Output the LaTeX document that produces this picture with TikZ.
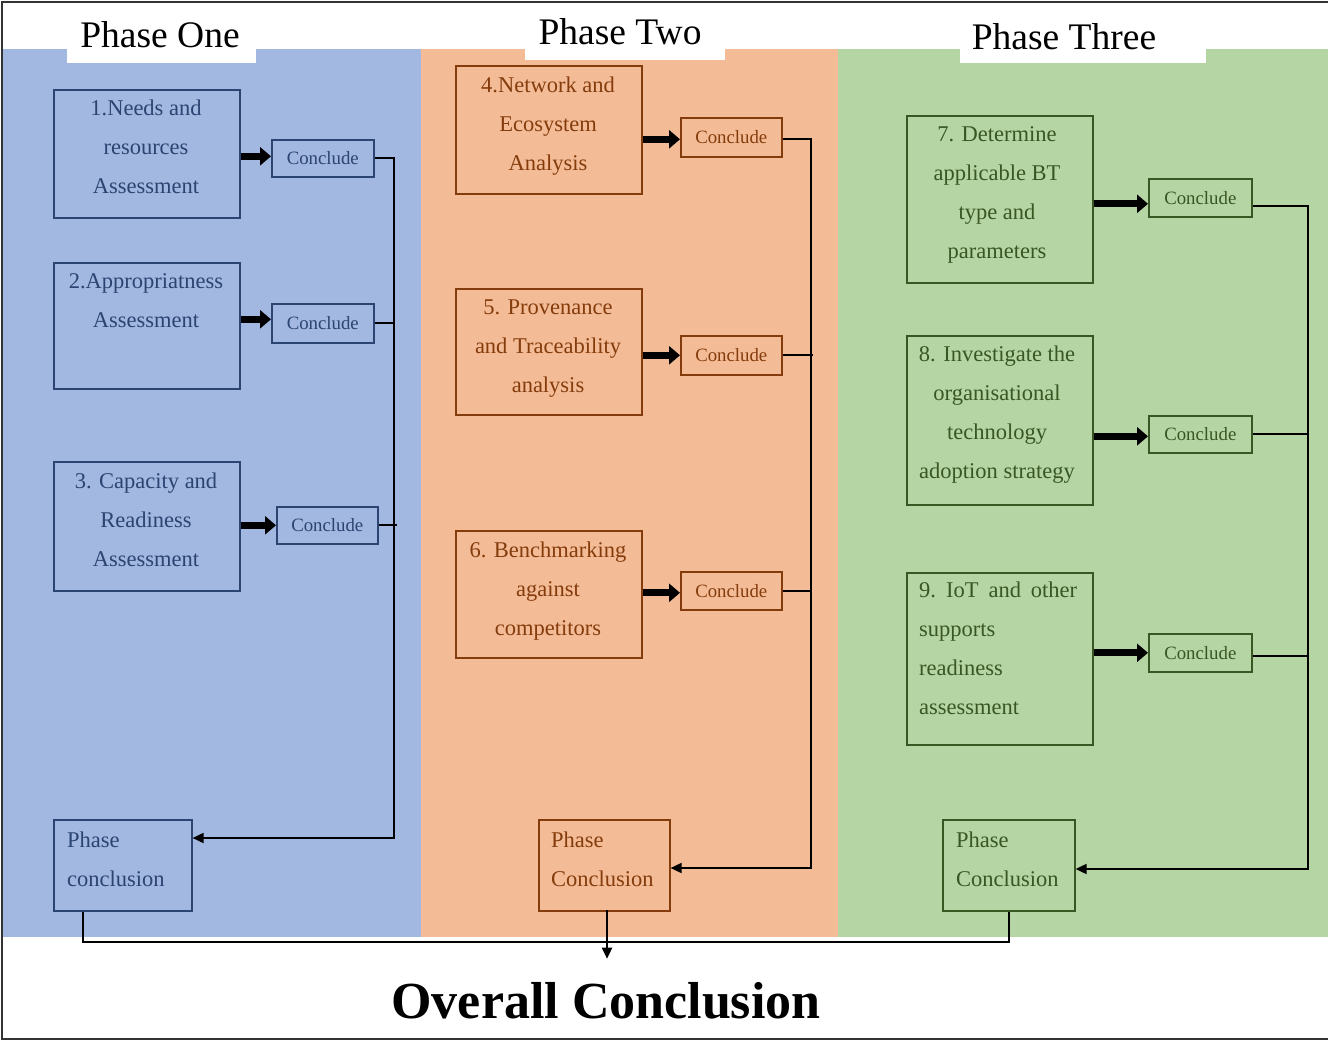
\documentclass[tikz,border=0pt]{standalone}
\usepackage{fontspec}
\setmainfont{Liberation Serif}
\usetikzlibrary{arrows.meta,calc}

\definecolor{pOneFill}{HTML}{A2B8E0}
\definecolor{pTwoFill}{HTML}{F4BC96}
\definecolor{pThreeFill}{HTML}{B6D5A4}
\definecolor{pOneInk}{HTML}{2B4472}
\definecolor{pTwoInk}{HTML}{843C0C}
\definecolor{pThreeInk}{HTML}{385723}

\begin{document}
\begin{tikzpicture}[x=1pt,y=-1pt,
  stagebox/.style={draw, line width=1.6pt, rectangle, inner sep=0pt, anchor=north west},
  concl/.style={draw, line width=1.6pt, rectangle, inner sep=0pt, anchor=north west,
    font=\fontsize{18.8}{20}\selectfont},
  % multi-line texts are placed by the baseline of their last line
  body/.style={font=\fontsize{22.5}{39}\selectfont, inner sep=0pt, anchor=base, align=center},
  bodyleft/.style={font=\fontsize{22.5}{39}\selectfont, inner sep=0pt, anchor=base west, align=left},
  title/.style={font=\fontsize{37.5}{40}\selectfont, inner sep=0pt, anchor=base},
  fat/.style={line width=7pt, black, -{Triangle[length=11pt,width=18pt]}},
  link/.style={line width=1.8pt, black},
  linkarrow/.style={link, -{Triangle[length=11pt,width=10pt]}},
  one/.style={draw=pOneInk, text=pOneInk},
  two/.style={draw=pTwoInk, text=pTwoInk},
  three/.style={draw=pThreeInk, text=pThreeInk}]

\useasboundingbox (0,0) rectangle (1328,1041);

% phase panels
\fill[pOneFill] (3,49) rectangle (421,937);
\fill[pTwoFill] (421,49) rectangle (838,937);
\fill[pThreeFill] (838,49) rectangle (1328,937);

% outer frame
\draw[line width=2pt, black!80] (1328,2) -- (2,2) -- (2,1039) -- (1328,1039);

% title tabs
\fill[white] (67,40) rectangle (256,63);
\fill[white] (525,40) rectangle (725,60);
\fill[white] (960,40) rectangle (1206,63);
\node[title] (t1) at (160,48) {Phase One};
\node[title] (t2) at (620,45) {Phase Two};
\node[title] (t3) at (1064,49) {Phase Three};

% ---------------- Phase One ----------------
\node[stagebox, one, minimum width=186, minimum height=128] (s1) at (53,89) {};
\node[body, text=pOneInk] (l1) at (146,193) {1.Needs and\\resources\\Assessment};
\node[concl, one, minimum width=102, minimum height=37] (c1) at (271,139) {Conclude};

\node[stagebox, one, minimum width=186, minimum height=126] (s2) at (53,262) {};
\node[body, text=pOneInk] (l2) at (146,327) {2.Appropriatness\\Assessment};
\node[concl, one, minimum width=102, minimum height=39] (c2) at (271,303) {Conclude};

\node[stagebox, one, minimum width=186, minimum height=129] (s3) at (53,461) {};
\node[body, text=pOneInk] (l3) at (146,566) {3. Capacity and\\Readiness\\Assessment};
\node[concl, one, minimum width=101, minimum height=37] (c3) at (276,506) {Conclude};

\node[stagebox, one, minimum width=138, minimum height=91] (pc1) at (53,819) {};
\node[bodyleft, text=pOneInk] (lp1) at (67,886) {Phase\\conclusion};

% ---------------- Phase Two ----------------
\node[stagebox, two, minimum width=186, minimum height=128] (s4) at (455,65) {};
\node[body, text=pTwoInk] (l4) at (548,170) {4.Network and\\Ecosystem\\Analysis};
\node[concl, two, minimum width=101, minimum height=39] (c4) at (680,117) {Conclude};

\node[stagebox, two, minimum width=186, minimum height=126] (s5) at (455,288) {};
\node[body, text=pTwoInk] (l5) at (548,392) {5. Provenance\\and Traceability\\analysis};
\node[concl, two, minimum width=101, minimum height=39] (c5) at (680,335) {Conclude};

\node[stagebox, two, minimum width=186, minimum height=127] (s6) at (455,530) {};
\node[body, text=pTwoInk] (l6) at (548,635) {6. Benchmarking\\against\\competitors};
\node[concl, two, minimum width=101, minimum height=38] (c6) at (680,571) {Conclude};

\node[stagebox, two, minimum width=131, minimum height=91] (pc2) at (538,819) {};
\node[bodyleft, text=pTwoInk] (lp2) at (551,886) {Phase\\Conclusion};

% ---------------- Phase Three ----------------
\node[stagebox, three, minimum width=186, minimum height=167] (s7) at (906,115) {};
\node[body, text=pThreeInk] (l7) at (997,258) {7. Determine\\applicable BT\\type and\\parameters};
\node[concl, three, minimum width=103, minimum height=38] (c7) at (1148,178) {Conclude};

\node[stagebox, three, minimum width=186, minimum height=169] (s8) at (906,335) {};
\node[body, text=pThreeInk] (l8) at (997,478) {8. Investigate the\\organisational\\technology\\adoption strategy};
\node[concl, three, minimum width=103, minimum height=37] (c8) at (1148,415) {Conclude};

\node[stagebox, three, minimum width=186, minimum height=172] (s9) at (906,572) {};
\node[bodyleft, text=pThreeInk] (l9) at (919,714)
  {\hbox to 158pt{9.\hfill IoT\hfill and\hfill other}\\supports\\readiness\\assessment};
\node[concl, three, minimum width=103, minimum height=38] (c9) at (1148,633) {Conclude};

\node[stagebox, three, minimum width=132, minimum height=91] (pc3) at (942,819) {};
\node[bodyleft, text=pThreeInk] (lp3) at (956,886) {Phase\\Conclusion};

% overall result
\node[inner sep=0pt, anchor=base, font=\bfseries\fontsize{52}{56}\selectfont] (ov) at (606,1018) {Overall Conclusion};

% ---------------- thick arrows: stage -> conclude ----------------
\coordinate (a1) at ($(c1.west)+(0,-2)$);
\coordinate (a2) at ($(c2.west)+(0,-4)$);
\coordinate (a3) at (c3.west);
\coordinate (a4) at ($(c4.west)+(0,2)$);
\coordinate (a5) at (c5.west);
\coordinate (a6) at ($(c6.west)+(0,2)$);
\coordinate (a7) at ($(c7.west)+(0,6)$);
\coordinate (a8) at ($(c8.west)+(0,2)$);
\coordinate (a9) at (c9.west);
\foreach \k in {1,...,9}{
  \draw[fat] (s\k.east |- a\k) -- (a\k);
}

% ---------------- collecting lines ----------------
\coordinate (v1) at (394,838);
\draw[linkarrow] (c1.east) -| (v1) -- (pc1.east |- v1);
\draw[link] (c2.east) -- (c2.east -| v1);
\draw[link] (c3.east) -- ($(c3.east -| v1)+(3,0)$);

\coordinate (v2) at (811,868);
\coordinate (e4) at ($(c4.east)+(0,2)$);
\draw[linkarrow] (e4) -| (v2) -- (pc2.east |- v2);
\draw[link] (c5.east) -- ($(c5.east -| v2)+(2,0)$);
\draw[link] (c6.east) -- (c6.east -| v2);

\coordinate (v3) at (1308,869);
\coordinate (e7) at ($(c7.east)+(0,8)$);
\coordinate (e9) at ($(c9.east)+(0,3)$);
\draw[linkarrow] (e7) -| (v3) -- (pc3.east |- v3);
\draw[link] (c8.east) -- (c8.east -| v3);
\draw[link] (e9) -- (e9 -| v3);

% ---------------- phase conclusions -> overall ----------------
\coordinate (bl) at (83,942);
\draw[link] (bl |- pc1.south) -- (bl) -- (bl -| pc3.south) -- (pc3.south);
\coordinate (dn) at (607,910);
\draw[line width=2.4pt, -{Triangle[length=11pt,width=10pt]}, shorten >=23pt] (dn) -- (dn |- ov.north);

\end{tikzpicture}
\end{document}
